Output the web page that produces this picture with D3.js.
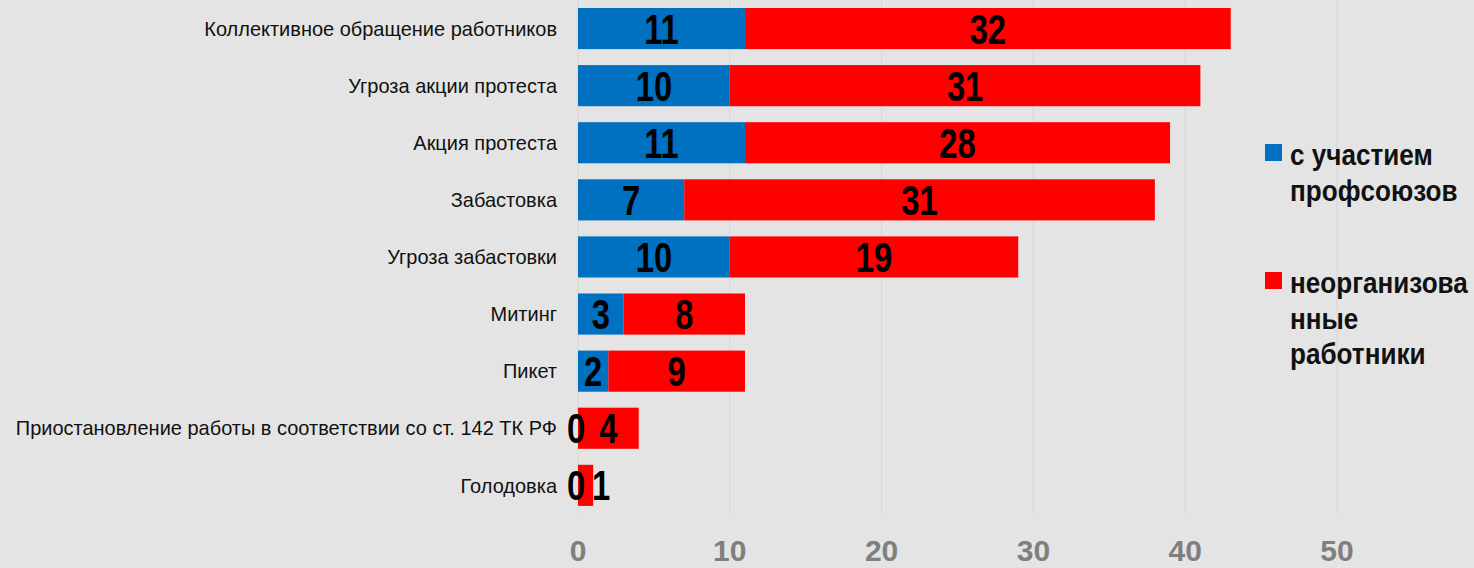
<!DOCTYPE html>
<html>
<head>
<meta charset="utf-8">
<script src="https://cdn.jsdelivr.net/npm/d3@7"></script>
<style>
  body { margin: 0; background: #e4e4e4; }
  svg { display: block; font-family: "Liberation Sans", Arial, sans-serif; }
</style>
</head>
<body>
<svg id="chart" width="1474" height="568"></svg>
<script>
// data
const categories = [
    'Коллективное обращение работников',
    'Угроза акции протеста',
    'Акция протеста',
    'Забастовка',
    'Угроза забастовки',
    'Митинг',
    'Пикет',
    'Приостановление работы в соответствии со ст. 142 ТК РФ',
    'Голодовка'
]
const unionValues = [11, 10, 11, 7, 10, 3, 2, 0, 0]
const unorgValues = [32, 31, 28, 31, 19, 8, 9, 4, 1]
const seriesNames = ['с участием профсоюзов', 'неорганизованные работники']
const legendLines = [['с участием', 'профсоюзов'], ['неорганизова', 'нные', 'работники']]
const xTicks = [0, 10, 20, 30, 40, 50]

const colors = ['#0070c0', '#ff0000']

const svg = d3.select('#chart')
const margin = { left: 578, top: 0 }

const x = d3.scaleLinear()
    .domain([0, 50])
    .range([margin.left, margin.left + 50 * 15.18])

const y = d3.scaleBand()
    .domain(categories)
    .range([0, 9 * 57.1])
    .paddingInner(0.28)
    .paddingOuter(0.14)

// helper: text squeezed sideways (no narrow font installed)
function squeezed(sel, px, py, sx) {
    return sel.append('g')
        .attr('transform', `translate(${px},${py}) scale(${sx},1)`)
        .append('text')
}

// faint grid
svg.append('g')
    .selectAll('line')
    .data(xTicks)
    .join('line')
    .attr('x1', d => x(d))
    .attr('x2', d => x(d))
    .attr('y1', 0)
    .attr('y2', 513)
    .attr('stroke', '#d6d6d6')
    .attr('stroke-width', 1)

const rows = categories.map((c, i) => ({ cat: c, a: unionValues[i], b: unorgValues[i] }))

const g = svg.append('g')

// blue segments
g.selectAll('rect.a')
    .data(rows)
    .join('rect')
    .attr('class', 'a')
    .attr('x', d => x(0))
    .attr('y', d => y(d.cat))
    .attr('width', d => x(d.a) - x(0))
    .attr('height', y.bandwidth())
    .attr('fill', colors[0])

// red segments
g.selectAll('rect.b')
    .data(rows)
    .join('rect')
    .attr('class', 'b')
    .attr('x', d => x(d.a))
    .attr('y', d => y(d.cat))
    .attr('width', d => x(d.a + d.b) - x(d.a))
    .attr('height', y.bandwidth())
    .attr('fill', colors[1])

// value labels
rows.forEach(d => {
    const cy = y(d.cat) + y.bandwidth() / 2
    const c1 = (x(0) + x(d.a)) / 2 - (d.a === 0 ? 2 : 0)
    // keep second label clear of a "0" label
    const c2 = Math.max((x(d.a) + x(d.a + d.b)) / 2, x(0) + 23)
    ;[[d.a, c1], [d.b, c2]].forEach(([v, cx]) => {
        squeezed(g, cx, cy, 0.78)
            .attr('dy', '0.36em')
            .attr('text-anchor', 'middle')
            .attr('font-size', 42)
            .attr('font-weight', 'bold')
            .attr('fill', '#000')
            .text(v)
    })
})

// category labels
const catG = svg.append('g')
categories.forEach(c => {
    squeezed(catG, 557, y(c) + y.bandwidth() / 2, 0.975)
        .attr('dy', '0.35em')
        .attr('text-anchor', 'end')
        .attr('font-size', 20.5)
        .attr('fill', '#111')
        .text(c)
})

// x axis labels
const axG = svg.append('g')
xTicks.forEach(t => {
    squeezed(axG, x(t), 550, 1)
        .attr('dy', '0.36em')
        .attr('text-anchor', 'middle')
        .attr('font-size', 30)
        .attr('font-weight', 'bold')
        .attr('fill', '#7f7f7f')
        .text(t)
})

// legend
const legend = svg.append('g')
const legendTop = [144, 272]
legendLines.forEach((lines, i) => {
    legend.append('rect')
        .attr('x', 1265)
        .attr('y', legendTop[i])
        .attr('width', 17)
        .attr('height', 17)
        .attr('fill', colors[i])
    lines.forEach((t, j) => {
        squeezed(legend, 1290, legendTop[i] + 21 + j * 35.5, 0.9)
            .attr('font-size', 29)
            .attr('font-weight', 'bold')
            .attr('fill', '#111')
            .text(t)
    })
})
</script>
</body>
</html>
